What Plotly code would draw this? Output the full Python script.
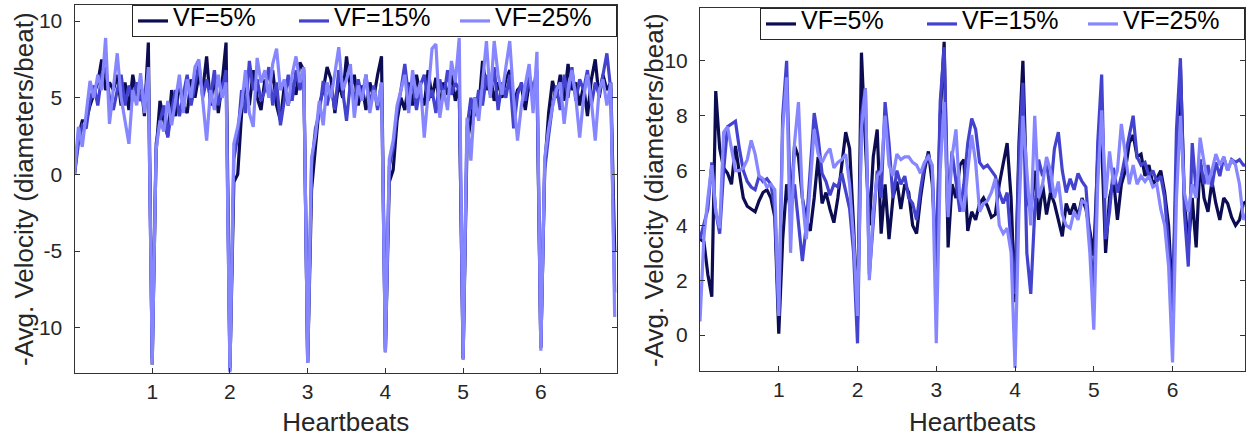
import numpy as np
import plotly.graph_objects as go

# ---- data ---------------------------------------------------------------
samples_per_beat = 20
heartbeats = np.arange(140) / samples_per_beat

series_names = ["VF=5%", "VF=15%", "VF=25%"]

left_vf5 = [
    0.0, 2.5, 3.5, 3.5, 4.5, 5.2, 6.0, 7.5, 5.5, 6.0, 5.5, 6.5, 4.5, 6.0, 4.2, 6.5, 5.0, 6.2, 3.8, 8.6,
    -12.4, 1.5, 4.8, 3.5, 2.5, 5.5, 3.8, 6.0, 4.5, 4.0, 6.2, 5.0, 6.5, 5.5, 7.7, 4.5, 6.5, 4.0, 6.0, 8.6,
    -12.6, -0.5, 0.0, 4.0, 6.1, 4.5, 6.8, 5.0, 4.2, 6.2, 5.2, 6.8, 4.5, 3.5, 5.8, 4.5, 6.0, 5.2, 7.3, 6.8,
    -12.3, -1.0, 2.0, 4.5, 5.5, 7.0, 6.2, 4.0, 6.0, 5.0, 7.7, 5.5, 6.5, 4.5, 5.8, 4.2, 6.0, 5.0, 6.5, 7.7,
    -11.6, -0.5, 0.3, 3.5, 5.0, 4.2, 6.0, 4.5, 6.5, 5.2, 4.5, 6.8, 5.0, 6.3, 4.5, 6.0, 5.2, 6.5, 4.8, 5.8,
    -12.0, 2.0, 3.5, 5.0, 4.2, 7.4, 5.5, 6.5, 4.8, 6.0, 5.0, 6.2, 6.8, 4.5, 5.5, 5.8, 4.2, 6.0, 5.0, 6.2,
    -11.3, 0.5, 4.0, 6.1, 5.0, 6.5, 4.8, 7.2, 5.5, 6.0, 4.5, 5.8, 3.8, 6.2, 7.5, 5.0, 6.5, 5.5, 6.0, -5.0,
]
left_vf15 = [
    0.0, 2.0, 3.2, 3.0, 4.8, 5.8, 4.5, 6.5, 7.0, 5.0, 4.2, 5.5, 6.5, 4.5, 5.8, 4.8, 6.0, 4.8, 5.2, 6.5,
    -12.0, 2.0, 3.5, 4.5, 2.4, 4.2, 5.5, 3.8, 5.2, 6.5, 4.5, 5.8, 7.2, 5.0, 6.2, 5.0, 6.8, 4.5, 5.5, 6.8,
    -12.8, 1.0, 2.5, 5.5, 4.0, 7.4, 5.5, 6.2, 4.8, 5.5, 7.0, 4.5, 6.0, 3.2, 5.0, 6.5, 4.8, 6.8, 5.5, 6.5,
    -12.2, 0.5, 3.0, 4.0, 6.1, 4.5, 5.8, 4.2, 6.8, 5.5, 3.5, 6.0, 4.8, 6.2, 5.0, 6.5, 4.5, 5.8, 4.2, 6.0,
    -11.4, 0.5, 1.7, 4.0, 5.5, 7.2, 5.0, 6.0, 4.2, 5.8, 6.5, 4.8, 5.5, 4.0, 6.2, 5.0, 6.8, 5.2, 6.0, 5.5,
    -12.0, 3.0, 5.0, 3.8, 5.5, 4.5, 6.5, 5.2, 7.0, 4.2, 6.0, 5.0, 6.5, 3.0, 5.2, 6.0, 4.8, 6.5, 5.5, 6.8,
    -11.3, 0.3, 2.5, 4.5, 5.8, 4.2, 6.5, 5.0, 7.0, 4.8, 6.2, 5.5, 6.8, 4.5, 6.0, 5.2, 6.5, 7.9, 5.5, -7.7,
]
left_vf25 = [
    0.0, 3.1, 1.8, 4.0, 6.1, 5.0, 6.5, 5.5, 8.9, 3.3, 5.5, 7.9, 5.0, 3.5, 2.0, 5.5, 4.5, 6.6, 4.0, 7.0,
    -12.4, 1.6, 3.5, 2.8, 4.8, 3.2, 5.0, 6.5, 4.0, 6.2, 5.0, 7.0, 7.5, 4.8, 2.2, 5.5, 4.2, 6.5, 5.0, 6.0,
    -12.9, 2.0, 3.1, 4.5, 6.8, 4.0, 3.1, 7.6, 6.0, 6.8, 5.0, 7.2, 8.2, 5.5, 6.2, 4.5, 6.5, 7.7, 6.0, 7.0,
    -12.3, 1.1, 2.5, 4.8, 3.2, 6.0, 5.0, 6.6, 8.3, 5.5, 6.2, 7.2, 3.7, 5.8, 4.8, 6.5, 4.0, 5.5, 4.5, 6.0,
    -11.6, 1.0, 2.2, 4.5, 5.5, 6.5, 4.0, 6.8, 5.0, 6.0, 2.4, 5.5, 8.2, 8.5, 3.7, 5.5, 4.2, 7.4, 6.0, 8.9,
    -12.1, 3.7, 0.9, 5.0, 3.5, 6.0, 8.7, 5.0, 8.7, 6.5, 5.2, 7.0, 8.7, 5.0, 2.2, 4.5, 6.0, 7.2, 4.0, 8.0,
    -11.5, 1.1, 3.0, 4.4, 5.5, 6.0, 3.3, 5.5, 6.8, 5.0, 2.4, 5.0, 6.5, 4.8, 2.2, 5.5, 6.2, 4.5, 6.0, -9.3,
]

right_vf5 = [
    3.5, 3.4, 2.2, 1.4, 8.9, 6.8, 6.1, 5.9, 5.5, 6.9, 5.9, 5.0, 4.7, 4.6, 4.5, 4.9, 5.2, 5.3, 5.0, 4.3,
    0.05, 3.5, 5.5, 4.5, 6.9, 6.5, 5.0, 4.2, 3.8, 5.0, 6.5, 4.8, 5.2, 4.6, 4.1, 5.0, 6.2, 7.4, 6.8, 4.0,
    0.5, 10.3, 7.0, 4.0, 6.5, 7.5, 3.7, 5.5, 3.5, 5.0, 5.6, 4.6, 5.5, 5.2, 4.0, 3.7, 5.0, 6.0, 6.7, 5.5,
    2.5, 8.0, 10.7, 3.2, 5.5, 5.0, 6.2, 6.4, 3.8, 4.5, 4.2, 4.8, 5.0, 4.7, 4.3, 4.4, 5.5, 6.2, 7.0, 5.0,
    1.2, 7.0, 10.0, 5.0, 4.5, 6.0, 4.2, 5.5, 4.4, 5.2, 4.8, 4.2, 3.6, 4.8, 4.4, 4.8, 4.3, 5.0, 4.6, 3.8,
    2.9, 6.5, 7.0, 3.0, 5.0, 5.7, 4.2, 5.5, 6.0, 7.0, 7.3, 6.5, 6.6, 5.8, 6.2, 5.5, 5.7, 6.0, 5.2, 4.0,
    1.2, 6.0, 9.8, 5.0, 3.2, 5.0, 3.2, 6.4, 5.0, 4.5, 5.6, 4.8, 4.2, 5.0, 4.8, 4.3, 4.0, 4.2, 4.8, 4.9,
]
right_vf15 = [
    3.5, 4.0, 4.6, 6.3, 4.5, 3.7, 6.0, 7.6, 7.7, 7.8, 6.8, 6.0, 5.6, 5.4, 5.3, 5.8, 5.6, 5.7, 5.5, 4.6,
    0.7, 8.0, 10.0, 4.5, 5.5, 4.2, 2.7, 4.0, 6.0, 8.1, 7.2, 5.9, 5.6, 5.1, 5.5, 5.4, 5.9, 5.2, 4.6, 3.0,
    -0.3, 8.0, 9.0, 2.2, 4.0, 6.0, 5.0, 8.5, 7.0, 5.0, 6.0, 5.5, 5.8, 5.0, 4.8, 4.2, 5.3, 6.2, 6.6, 6.0,
    2.2, 8.5, 10.5, 4.5, 6.7, 5.5, 4.5, 5.5, 7.0, 7.9, 7.5, 6.3, 6.1, 6.2, 6.0, 5.8, 5.2, 4.8, 5.2, 3.5,
    1.5, 6.5, 9.2, 3.0, 1.5, 4.5, 6.4, 5.8, 6.3, 5.2, 6.8, 7.4, 6.0, 5.2, 5.7, 5.3, 5.9, 5.6, 5.4, 3.5,
    1.4, 7.0, 9.5, 3.5, 4.5, 6.1, 5.2, 5.8, 6.5, 7.2, 8.0, 6.5, 6.2, 6.3, 5.8, 6.0, 5.6, 5.8, 5.0, 3.2,
    0.8, 7.5, 10.1, 4.5, 2.5, 7.0, 5.2, 6.4, 5.5, 6.2, 5.4, 6.3, 5.8, 6.5, 6.0, 6.4, 6.3, 6.4, 6.2, 6.2,
]
right_vf25 = [
    0.5, 3.6, 5.0, 6.2, 4.5, 3.9, 7.4, 7.6, 6.8, 6.0, 6.0, 6.1, 6.4, 7.1, 6.6, 5.8, 5.7, 5.4, 5.5, 5.3,
    0.7, 7.5, 9.4, 3.0, 7.0, 8.5, 5.0, 3.5, 5.5, 7.5, 6.6, 6.3, 6.6, 6.8, 6.1, 6.3, 6.4, 6.6, 5.5, 3.5,
    0.7, 7.5, 9.0, 2.0, 4.5, 5.8, 6.0, 8.0, 6.2, 5.8, 6.6, 6.4, 6.5, 6.5, 6.3, 6.2, 5.9, 6.3, 6.5, 6.2,
    -0.3, 6.0, 8.5, 4.3, 6.5, 7.5, 5.0, 4.5, 6.0, 7.3, 6.3, 4.5, 4.8, 4.9, 5.2, 5.7, 4.0, 3.7, 3.9, 3.0,
    -1.2, 4.5, 8.0, 6.0, 4.0, 8.0, 5.0, 5.5, 6.5, 6.0, 5.0, 5.6, 4.4, 4.0, 3.9, 4.5, 4.2, 4.9, 4.8, 3.0,
    0.2, 5.5, 8.2, 5.0, 6.7, 5.5, 6.0, 7.7, 6.5, 5.5, 6.2, 5.5, 5.8, 5.6, 5.8, 5.4, 5.5, 4.6, 4.0, 2.5,
    -1.0, 5.0, 8.0, 5.2, 4.5, 5.5, 5.0, 7.2, 6.3, 5.5, 6.0, 6.6, 6.2, 6.5, 6.0, 6.4, 6.2, 5.5, 4.2, 4.5,
]

x_ticks = [1, 2, 3, 4, 5, 6]
left_y_ticks = [-10, -5, 0, 5, 10]
right_y_ticks = [0, 2, 4, 6, 8, 10]

x_title = "Heartbeats"
y_title = "-Avg. Velocity (diameters/beat)"

# ---- style --------------------------------------------------------------
series_colors = ["#0c0c52", "#4343cf", "#8686ff"]
FONT = "Liberation Sans, Arial, Helvetica, sans-serif"
AX = "#333333"
TXT = "#262626"

def legend_label(name):
    return '<span style="font-size:25px">' + name + '</span>'

fig = go.Figure()
for name, color, ys in zip(series_names, series_colors, [left_vf5, left_vf15, left_vf25]):
    fig.add_trace(go.Scatter(x=heartbeats, y=ys, mode="lines", name=legend_label(name),
                             line=dict(color=color, width=3.2),
                             xaxis="x", yaxis="y", legend="legend"))
for name, color, ys in zip(series_names, series_colors, [right_vf5, right_vf15, right_vf25]):
    fig.add_trace(go.Scatter(x=heartbeats, y=ys, mode="lines", name=legend_label(name),
                             line=dict(color=color, width=3.2),
                             xaxis="x2", yaxis="y2", legend="legend2"))

W, H = 1250, 437
def xd(a, b):
    return [a / W, b / W]
def yd(top, bottom):
    return [(H - bottom) / H, (H - top) / H]

common = dict(showline=True, linecolor=AX, linewidth=1, mirror="ticks",
              ticks="inside", ticklen=5, tickcolor=AX, tickwidth=1,
              showgrid=False, zeroline=False, automargin=False,
              tickfont=dict(size=21, color=TXT, family=FONT))
title_font = dict(size=26, color=TXT, family=FONT)

legend_common = dict(orientation="h", xanchor="right", yanchor="top",
                     bgcolor="white", bordercolor=TXT, borderwidth=1,
                     entrywidth=116, entrywidthmode="pixels",
                     font=dict(size=13, color="black", family=FONT))

fig.update_layout(
    width=W, height=H,
    margin=dict(l=0, r=0, t=0, b=0),
    paper_bgcolor="white", plot_bgcolor="white",
    font=dict(family=FONT, color=TXT),
    xaxis=dict(domain=xd(74.5, 617), range=[0, 6.98], tickvals=x_ticks,
               title=dict(text=x_title, font=title_font), anchor="y", **common),
    yaxis=dict(domain=yd(5, 373), range=[-12.95, 11.05], tickvals=left_y_ticks,
               ticktext=[str(v) for v in left_y_ticks],
               ticklabelstandoff=7, anchor="x", **common),
    xaxis2=dict(domain=xd(700, 1245), range=[0, 6.92], tickvals=x_ticks,
                title=dict(text=x_title, font=title_font), anchor="y2", **common),
    yaxis2=dict(domain=yd(8, 371), range=[-1.31, 11.93], tickvals=right_y_ticks,
                ticklabelstandoff=7, anchor="x2", **common),
    legend=dict(x=617 / W, y=(H - 5) / H, **legend_common),
    legend2=dict(x=1245 / W, y=(H - 8) / H, **legend_common),
    annotations=[
        dict(text=y_title, textangle=-90, font=title_font, showarrow=False,
             xref="paper", yref="paper", x=24 / W, y=(H - 189) / H,
             xanchor="center", yanchor="middle"),
        dict(text=y_title, textangle=-90, font=title_font, showarrow=False,
             xref="paper", yref="paper", x=654 / W, y=(H - 190) / H,
             xanchor="center", yanchor="middle"),
    ],
)

fig.write_html("out.html", config={"displayModeBar": False},
               post_script="document.body.style.margin='0';")
